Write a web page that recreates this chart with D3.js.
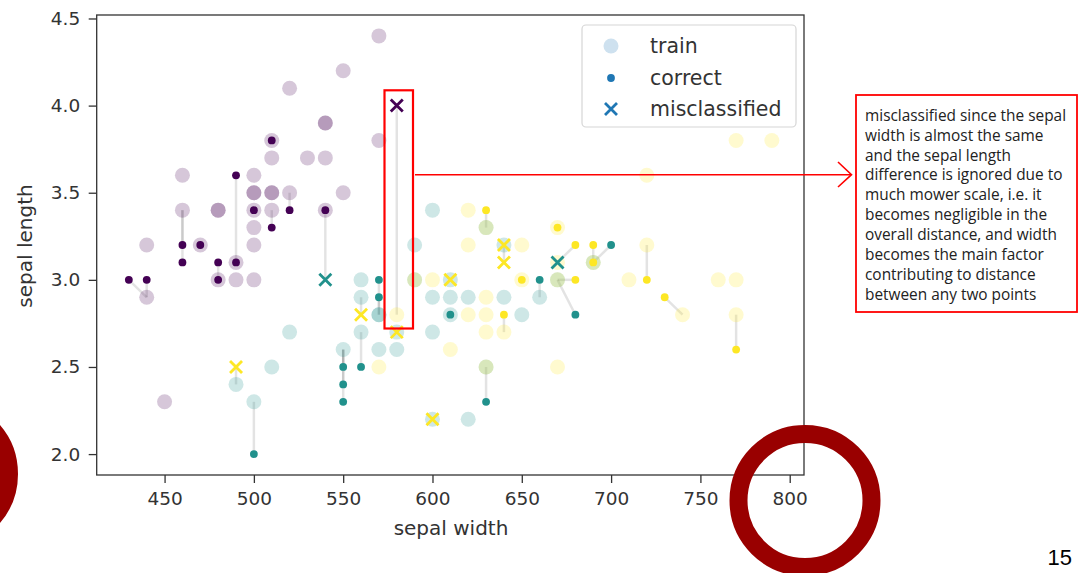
<!DOCTYPE html>
<html>
<head>
<meta charset="utf-8">
<script src="https://cdn.jsdelivr.net/npm/d3@7"></script>
<style>
  html, body { margin: 0; padding: 0; background: #fff; }
  svg { display: block; }
  .tick text { font-family: "DejaVu Sans", sans-serif; fill: #333; }
</style>
</head>
<body>
<svg id="chart" width="1078" height="573"></svg>
<script>
// iris sepal data: x = sepal width (x100), y = sepal length
const trainSetosa = [
  [570,4.4],[550,4.2],[520,4.1],[540,3.9],[540,3.9],[510,3.8],[570,3.8],[510,3.7],[530,3.7],
  [540,3.7],[460,3.6],[500,3.6],[500,3.5],[500,3.5],[510,3.5],[510,3.5],[520,3.5],[550,3.5],
  [460,3.4],[480,3.4],[480,3.4],[500,3.4],[510,3.4],[540,3.4],[500,3.3],[440,3.2],[470,3.2],
  [500,3.2],[490,3.1],[480,3.0],[490,3.0],[500,3.0],[440,2.9],[450,2.3]
];
const trainVersicolor = [
  [600,3.4],[630,3.3],[590,3.2],[640,3.2],[690,3.1],[560,3.0],[590,3.0],[610,3.0],[670,3.0],
  [560,2.9],[600,2.9],[610,2.9],[620,2.9],[640,2.9],[660,2.9],[570,2.8],[570,2.8],[610,2.8],
  [650,2.8],[520,2.7],[560,2.7],[580,2.7],[600,2.7],[550,2.6],[570,2.6],[580,2.6],[510,2.5],
  [630,2.5],[490,2.4],[500,2.3],[600,2.2],[620,2.2]
];
const trainVirginica = [
  [770,3.8],[790,3.8],[720,3.6],[620,3.4],[630,3.3],[670,3.3],[620,3.2],[650,3.2],[720,3.2],
  [670,3.1],[690,3.1],[590,3.0],[600,3.0],[650,3.0],[670,3.0],[710,3.0],[760,3.0],[770,3.0],
  [630,2.9],[580,2.8],[620,2.8],[630,2.8],[740,2.8],[770,2.8],[630,2.7],[640,2.7],[610,2.6],
  [570,2.5],[630,2.5],[670,2.5]
];
// test points: [x, y, class, nearest train x, nearest train y]
const testCorrect = [
  [510,3.8,0,510,3.8],[490,3.6,0,490,3.1],[500,3.4,0,500,3.4],[520,3.4,0,520,3.5],
  [540,3.4,0,540,3.4],[510,3.3,0,510,3.4],[460,3.2,0,460,3.4],[470,3.2,0,470,3.2],
  [460,3.1,0,460,3.4],[480,3.1,0,480,3.0],[490,3.1,0,490,3.1],[430,3.0,0,440,2.9],
  [440,3.0,0,440,2.9],[480,3.0,0,480,3.0],
  [700,3.2,1,690,3.1],[570,3.0,1,570,2.8],[660,3.0,1,660,2.9],[570,2.9,1,570,2.8],
  [610,2.8,1,610,2.8],[680,2.8,1,670,3.0],[560,2.5,1,560,2.7],[550,2.5,1,550,2.6],
  [550,2.4,1,550,2.6],[550,2.3,1,550,2.6],[630,2.3,1,630,2.5],[500,2.0,1,500,2.3],
  [630,3.4,2,630,3.3],[670,3.3,2,670,3.3],[680,3.2,2,670,3.1],[690,3.2,2,690,3.1],
  [690,3.1,2,690,3.1],[650,3.0,2,650,3.0],[680,3.0,2,670,3.0],[720,3.0,2,720,3.2],
  [730,2.9,2,740,2.8],[640,2.8,2,640,2.7],[770,2.6,2,770,2.8]
];
const testMisclassified = [
  [580,4.0,0,580,2.8],[540,3.0,1,540,3.4],[670,3.1,1,670,3.1],[640,3.2,2,640,3.2],
  [640,3.1,2,640,3.2],[610,3.0,2,610,3.0],[560,2.8,2,560,2.9],[580,2.7,2,580,2.7],
  [600,2.2,2,600,2.2],[490,2.5,2,490,2.4]
];
const xTicks = [450, 500, 550, 600, 650, 700, 750, 800];
const yTicks = [2.0, 2.5, 3.0, 3.5, 4.0, 4.5];
const legendLabels = ["train", "correct", "misclassified"];
const noteLines = [
  "misclassified since the sepal",
  "width is almost the same",
  "and the sepal length",
  "difference is ignored due to",
  "much mower scale, i.e. it",
  "becomes negligible in the",
  "overall distance, and width",
  "becomes the main factor",
  "contributing to distance",
  "between any two points"
];

const classColor = ["#440154", "#21918c", "#fde725"];
const svg = d3.select("#chart");

const x = d3.scaleLinear().domain([412, 808]).range([96.7, 804]);
const y = d3.scaleLinear().domain([1.88, 4.52]).range([475, 15]);

// neighbour lines
const allTest = testCorrect.concat(testMisclassified);
svg.append("g").selectAll("line")
  .data(allTest)
  .enter().append("line")
  .attr("x1", d => x(d[0])).attr("y1", d => y(d[1]))
  .attr("x2", d => x(d[3])).attr("y2", d => y(d[4]))
  .attr("stroke", "#000").attr("stroke-opacity", 0.11).attr("stroke-width", 2.5);

// train points
const train = []
  .concat(trainSetosa.map(d => [d[0], d[1], 0]))
  .concat(trainVersicolor.map(d => [d[0], d[1], 1]))
  .concat(trainVirginica.map(d => [d[0], d[1], 2]));
svg.append("g").selectAll("circle")
  .data(train)
  .enter().append("circle")
  .attr("cx", d => x(d[0])).attr("cy", d => y(d[1]))
  .attr("r", 7.5)
  .attr("fill", d => classColor[d[2]])
  .attr("fill-opacity", 0.22);

// correct test points
svg.append("g").selectAll("circle")
  .data(testCorrect)
  .enter().append("circle")
  .attr("cx", d => x(d[0])).attr("cy", d => y(d[1]))
  .attr("r", 3.9)
  .attr("fill", d => classColor[d[2]]);

// misclassified test points
const cross = "M-6,-6L6,6M-6,6L6,-6";
svg.append("g").selectAll("path")
  .data(testMisclassified)
  .enter().append("path")
  .attr("transform", d => `translate(${x(d[0])},${y(d[1])})`)
  .attr("d", cross)
  .attr("fill", "none")
  .attr("stroke", d => classColor[d[2]])
  .attr("stroke-width", 2.8);

// axes
svg.append("g")
  .attr("transform", "translate(0,475)")
  .call(d3.axisBottom(x).tickValues(xTicks).tickSize(8).tickPadding(9).tickSizeOuter(0))
  .call(g => g.select(".domain").remove())
  .call(g => g.selectAll(".tick line").attr("stroke", "#333").attr("stroke-width", 1.3))
  .call(g => g.selectAll(".tick text").attr("font-size", 18.5));

svg.append("g")
  .attr("transform", "translate(96.7,0)")
  .call(d3.axisLeft(y).tickValues(yTicks).tickFormat(d3.format(".1f")).tickSize(8).tickPadding(8.5).tickSizeOuter(0))
  .call(g => g.select(".domain").remove())
  .call(g => g.selectAll(".tick line").attr("stroke", "#333").attr("stroke-width", 1.3))
  .call(g => g.selectAll(".tick text").attr("font-size", 18.5));

svg.append("rect")
  .attr("x", x.range()[0]).attr("y", y.range()[1])
  .attr("width", x.range()[1] - x.range()[0])
  .attr("height", y.range()[0] - y.range()[1])
  .attr("fill", "none").attr("stroke", "#333").attr("stroke-width", 1.3);

svg.append("text")
  .attr("x", 451).attr("y", 535)
  .attr("text-anchor", "middle")
  .attr("font-family", "DejaVu Sans").attr("font-size", 20).attr("fill", "#333")
  .text("sepal width");

svg.append("text")
  .attr("transform", "translate(32,246) rotate(-90)")
  .attr("text-anchor", "middle")
  .attr("font-family", "DejaVu Sans").attr("font-size", 20).attr("fill", "#333")
  .text("sepal length");

// legend
const legend = svg.append("g");
legend.append("rect")
  .attr("x", 582).attr("y", 25).attr("width", 214).attr("height", 102).attr("rx", 4)
  .attr("fill", "#fff").attr("fill-opacity", 0.8)
  .attr("stroke", "#d6d6d6").attr("stroke-width", 1.2);
const legendY = [46, 78, 109];
legend.append("circle").attr("cx", 611).attr("cy", legendY[0]).attr("r", 7.5)
  .attr("fill", "#1f77b4").attr("fill-opacity", 0.22);
legend.append("circle").attr("cx", 611).attr("cy", legendY[1]).attr("r", 3.9)
  .attr("fill", "#1f77b4");
legend.append("path").attr("transform", `translate(611,${legendY[2]})`).attr("d", cross)
  .attr("fill", "none").attr("stroke", "#1f77b4").attr("stroke-width", 2.8);
legend.selectAll("text")
  .data(legendLabels)
  .enter().append("text")
  .attr("x", 650).attr("y", (d, i) => legendY[i] + 7)
  .attr("font-family", "DejaVu Sans").attr("font-size", 20.5).attr("fill", "#333")
  .text(d => d);

// annotation
svg.append("rect")
  .attr("x", 384.5).attr("y", 90.3).attr("width", 28.5).attr("height", 238.2)
  .attr("fill", "none").attr("stroke", "#ff0000").attr("stroke-width", 2.2);
svg.append("line")
  .attr("x1", 415).attr("y1", 174.7).attr("x2", 851).attr("y2", 174.7)
  .attr("stroke", "#ff0000").attr("stroke-width", 1.6);
svg.append("path")
  .attr("d", "M838,162L851.5,174.7L838,187")
  .attr("fill", "none").attr("stroke", "#ff0000").attr("stroke-width", 1.6);
svg.append("rect")
  .attr("x", 856).attr("y", 95).attr("width", 221).attr("height", 217)
  .attr("fill", "#fff").attr("stroke", "#ff0000").attr("stroke-width", 1.8);
svg.append("g").selectAll("text")
  .data(noteLines)
  .enter().append("text")
  .attr("x", 865).attr("y", (d, i) => 120.7 + i * 19.92)
  .attr("font-family", "Open Sans").attr("font-size", 15.4).attr("fill", "#222")
  .text(d => d);

// red circles
svg.append("circle").attr("cx", 805).attr("cy", 500.5).attr("r", 66.5)
  .attr("fill", "none").attr("stroke", "#990000").attr("stroke-width", 18);
svg.append("circle").attr("cx", -57.5).attr("cy", 474).attr("r", 66.5)
  .attr("fill", "none").attr("stroke", "#990000").attr("stroke-width", 18);

svg.append("text")
  .attr("x", 1072).attr("y", 565)
  .attr("text-anchor", "end")
  .attr("font-family", "Liberation Sans, Arial, sans-serif").attr("font-size", 22).attr("fill", "#000")
  .text("15");
</script>
</body>
</html>
